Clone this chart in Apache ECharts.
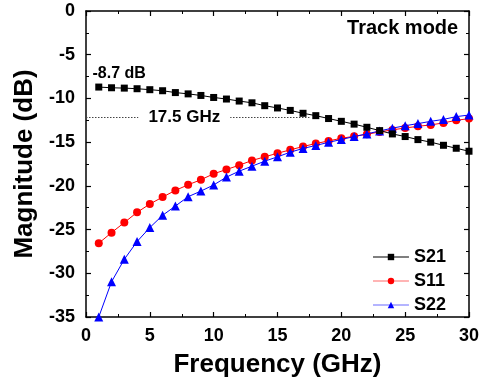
<!DOCTYPE html>
<html>
<head>
<meta charset="utf-8">
<script src="https://cdn.jsdelivr.net/npm/echarts@6/dist/echarts.min.js"></script>
<style>
  html, body { margin: 0; padding: 0; background: #fff; }
  #chart { width: 483px; height: 383px; }
</style>
</head>
<body>
<div id="chart"></div>
<script>
// frequency points (GHz)
const freq = [1, 2, 3, 4, 5, 6, 7, 8, 9, 10, 11, 12, 13, 14, 15, 16, 17, 18, 19, 20, 21, 22, 23, 24, 25, 26, 27, 28, 29, 30];

const s21 = [-8.70, -8.78, -8.82, -8.89, -9.00, -9.12, -9.33, -9.48, -9.66, -9.89,
  -10.07, -10.30, -10.50, -10.83, -11.09, -11.37, -11.70, -11.97, -12.30, -12.62,
  -12.94, -13.30, -13.68, -14.06, -14.36, -14.71, -15.00, -15.36, -15.70, -16.04];

const s11 = [-26.56, -25.35, -24.20, -23.03, -22.08, -21.28, -20.52, -19.88, -19.30, -18.62,
  -18.13, -17.64, -17.10, -16.68, -16.27, -15.88, -15.50, -15.16, -14.86, -14.56,
  -14.33, -14.10, -13.83, -13.60, -13.38, -13.19, -13.03, -12.80, -12.50, -12.31];

const s22 = [-35.0, -30.97, -28.40, -26.37, -24.77, -23.37, -22.31, -21.24, -20.60, -19.90,
  -19.00, -18.32, -17.75, -17.18, -16.68, -16.15, -15.72, -15.38, -15.02, -14.70,
  -14.36, -14.06, -13.72, -13.40, -13.12, -12.88, -12.62, -12.40, -12.08, -11.90];

const seriesNames = ["S21", "S11", "S22"];
const seriesColors = ["#000000", "#ff0000", "#0000ff"];
const legendLineColors = ["#000000", "#ff6b6b", "#6b6bff"];
const seriesSymbols = ["rect", "circle", "triangle"];
const symbolSizes = [7, 8, 9];

// annotations: [x, y, text, fontSize, whiteBox]
const notes = [
  [2.6, -7.15, "-8.7 dB", 16, false],
  [7.7, -12.2, "17.5 GHz", 17, true],
  [24.8, -2.05, "Track mode", 20, false],
];
const cutoffLevel = -12.2;
const cutoffFreq = 17.5;

const font = "'Liberation Sans', Arial, sans-serif";
const chart = echarts.init(document.getElementById("chart"));

const pair = (ys) => freq.map((f, i) => [f, ys[i]]);

const axisCommon = {
  axisLine: { show: true, onZero: false, lineStyle: { color: "#000", width: 1.5 } },
  axisTick: { show: true, inside: true, length: 5, lineStyle: { color: "#000", width: 1.2 } },
  minorTick: { show: true, splitNumber: 2, length: 3, lineStyle: { color: "#000", width: 1 } },
  splitLine: { show: false },
};

const nameStyle = { fontFamily: font, fontSize: 26, fontWeight: "bold", color: "#000" };
const tickLabel = { color: "#000", fontFamily: font, fontSize: 18, fontWeight: "bold" };

const makeSeries = (i, ys) => ({
  name: seriesNames[i],
  type: "line",
  data: pair(ys),
  symbol: seriesSymbols[i],
  symbolSize: symbolSizes[i],
  z: i === 0 ? 5 : 2 + i,
  itemStyle: { color: seriesColors[i] },
  lineStyle: { color: seriesColors[i], width: 1 },
});

const s21Series = makeSeries(0, s21);
s21Series.markLine = {
  silent: true,
  symbol: "none",
  label: { show: false },
  lineStyle: { color: "#444", width: 1, type: [1.5, 1.5] },
  data: [[{ coord: [0, cutoffLevel] }, { coord: [cutoffFreq, cutoffLevel] }]],
};

const option = {
  animation: false,
  textStyle: { fontFamily: font },
  grid: { left: 86, right: 14, top: 11, bottom: 65 },
  legend: {
    data: seriesNames.map((n, i) => ({
      name: n,
      lineStyle: { color: legendLineColors[i], width: 1.2 },
    })),
    orient: "vertical",
    right: 32,
    top: 243,
    itemWidth: 36,
    itemHeight: 8,
    itemGap: 6,
    textStyle: { fontFamily: font, fontSize: 18, fontWeight: "bold", color: "#000" },
  },
  xAxis: [
    {
      ...axisCommon,
      type: "value",
      min: 0,
      max: 30,
      interval: 5,
      position: "bottom",
      name: "Frequency (GHz)",
      nameLocation: "middle",
      nameGap: 35,
      nameTextStyle: nameStyle,
      axisLabel: { ...tickLabel, margin: 10 },
    },
    {
      ...axisCommon,
      type: "value",
      min: 0,
      max: 30,
      interval: 5,
      position: "top",
      axisLabel: { show: false },
    },
  ],
  yAxis: [
    {
      ...axisCommon,
      type: "value",
      min: -35,
      max: 0,
      interval: 5,
      position: "left",
      name: "Magnitude (dB)",
      nameLocation: "middle",
      nameGap: 48,
      nameTextStyle: nameStyle,
      axisLabel: { ...tickLabel, margin: 11 },
    },
    {
      ...axisCommon,
      type: "value",
      min: -35,
      max: 0,
      interval: 5,
      position: "right",
      axisLabel: { show: false },
    },
  ],
  series: [
    s21Series,
    makeSeries(1, s11),
    makeSeries(2, s22),
    {
      name: "notes",
      type: "scatter",
      symbolSize: 0,
      silent: true,
      z: 10,
      itemStyle: { opacity: 1 },
      data: notes.map((n) => ({
        value: [n[0], n[1]],
        label: {
          formatter: n[2],
          fontSize: n[3],
          backgroundColor: n[4] ? "#fff" : "transparent",
          padding: n[4] ? [0, 10] : 0,
        },
      })),
      label: {
        show: true,
        position: "inside",
        color: "#000",
        fontFamily: font,
        fontWeight: "bold",
      },
    },
  ],
};

chart.setOption(option);
</script>
</body>
</html>
